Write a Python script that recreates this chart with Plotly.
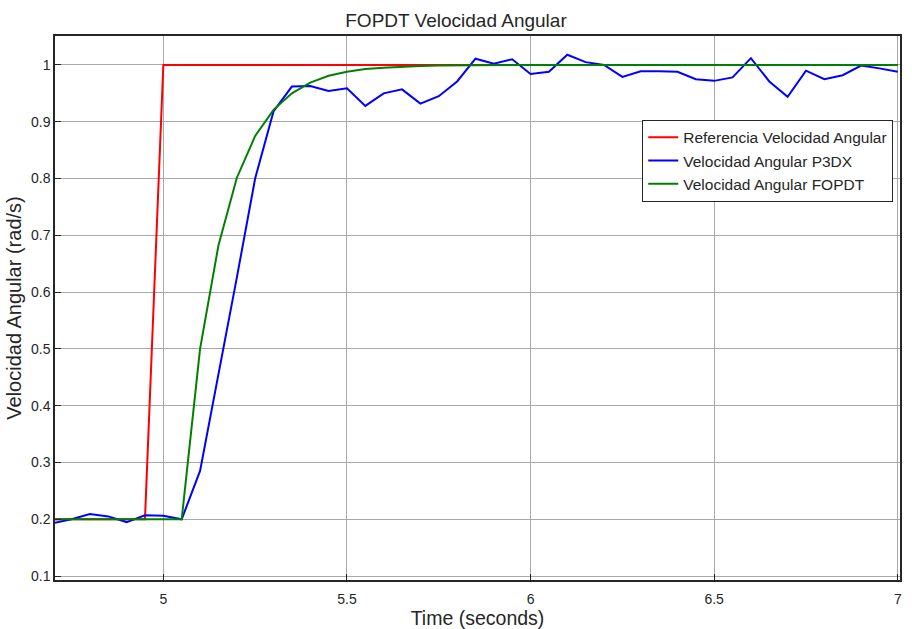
import plotly.graph_objects as go

# Time samples (s)
t = [4.70, 4.75, 4.80, 4.85, 4.90, 4.95, 5.00, 5.05, 5.10, 5.15, 5.20, 5.25, 5.30,
     5.35, 5.40, 5.45, 5.50, 5.55, 5.60, 5.65, 5.70, 5.75, 5.80, 5.85, 5.90, 5.95,
     6.00, 6.05, 6.10, 6.15, 6.20, 6.25, 6.30, 6.35, 6.40, 6.45, 6.50, 6.55, 6.60,
     6.65, 6.70, 6.75, 6.80, 6.85, 6.90, 6.95, 7.00]

referencia = [0.2, 0.2, 0.2, 0.2, 0.2, 0.2, 1.0, 1.0, 1.0, 1.0, 1.0, 1.0, 1.0,
              1.0, 1.0, 1.0, 1.0, 1.0, 1.0, 1.0, 1.0, 1.0, 1.0, 1.0, 1.0, 1.0,
              1.0, 1.0, 1.0, 1.0, 1.0, 1.0, 1.0, 1.0, 1.0, 1.0, 1.0, 1.0, 1.0,
              1.0, 1.0, 1.0, 1.0, 1.0, 1.0, 1.0, 1.0]

p3dx = [0.193, 0.200, 0.209, 0.205, 0.195, 0.207, 0.206, 0.200, 0.285, 0.452, 0.625, 0.800, 0.918,
        0.962, 0.963, 0.954, 0.959, 0.928, 0.950, 0.957, 0.932, 0.945, 0.971, 1.011, 1.002, 1.010,
        0.984, 0.988, 1.018, 1.005, 1.000, 0.979, 0.989, 0.989, 0.988, 0.975, 0.972, 0.978, 1.012,
        0.971, 0.944, 0.990, 0.975, 0.982, 0.999, 0.994, 0.988]

fopdt = [0.2, 0.2, 0.2, 0.2, 0.2, 0.2, 0.2, 0.2, 0.500, 0.682, 0.801, 0.875, 0.921,
         0.950, 0.969, 0.981, 0.988, 0.993, 0.995, 0.997, 0.998, 0.999, 0.9995, 1.0, 1.0, 1.0,
         1.0, 1.0, 1.0, 1.0, 1.0, 1.0, 1.0, 1.0, 1.0, 1.0, 1.0, 1.0, 1.0,
         1.0, 1.0, 1.0, 1.0, 1.0, 1.0, 1.0, 1.0]

x_ticks = [5, 5.5, 6, 6.5, 7]
x_tick_labels = ["5", "5.5", "6", "6.5", "7"]
y_ticks = [0.1, 0.2, 0.3, 0.4, 0.5, 0.6, 0.7, 0.8, 0.9, 1.0]
y_tick_labels = ["0.1", "0.2", "0.3", "0.4", "0.5", "0.6", "0.7", "0.8", "0.9", "1"]

FONT = "Liberation Sans, Arial, sans-serif"
TXT = "#262626"

fig = go.Figure()
fig.add_trace(go.Scatter(x=t, y=referencia, mode="lines", name="Referencia Velocidad Angular",
                         line=dict(color="#ff0000", width=2)))
fig.add_trace(go.Scatter(x=t, y=p3dx, mode="lines", name="Velocidad Angular P3DX",
                         line=dict(color="#0000ff", width=2)))
fig.add_trace(go.Scatter(x=t, y=fopdt, mode="lines", name="Velocidad Angular FOPDT",
                         line=dict(color="#008000", width=2)))

axis_common = dict(
    showgrid=True, gridcolor="#a8a8a8", gridwidth=1,
    showline=True, linecolor=TXT, linewidth=1.5, mirror=True,
    ticks="inside", ticklen=6, tickcolor=TXT,
    zeroline=False, automargin=False,
    tickfont=dict(family=FONT, size=14, color=TXT),
)

fig.update_layout(
    width=912, height=629,
    paper_bgcolor="white", plot_bgcolor="white",
    margin=dict(l=55, r=12, t=36, b=49),
    title=dict(text="FOPDT Velocidad Angular", x=0.5, xanchor="center",
               y=0.968, yanchor="middle",
               font=dict(family=FONT, size=19, color=TXT)),
    xaxis=dict(range=[4.705, 7.006], tickvals=x_ticks, ticktext=x_tick_labels,
               ticklabelstandoff=5,
               title=dict(text="Time (seconds)", font=dict(family=FONT, size=19.5, color=TXT),
                          standoff=4),
               **axis_common),
    yaxis=dict(range=[0.093, 1.051], tickvals=y_ticks, ticktext=y_tick_labels,
               title=dict(text="Velocidad Angular (rad/s)", font=dict(family=FONT, size=20, color=TXT),
                          standoff=4),
               **axis_common),
    legend=dict(x=0.992, y=0.846, xanchor="right", yanchor="top",
                bgcolor="white", bordercolor=TXT, borderwidth=1,
                font=dict(family=FONT, size=15.5, color=TXT),
                tracegroupgap=0),
    showlegend=True,
)

fig.write_html("out.html", config={"displayModeBar": False},
               post_script="document.body.style.margin='0';")
